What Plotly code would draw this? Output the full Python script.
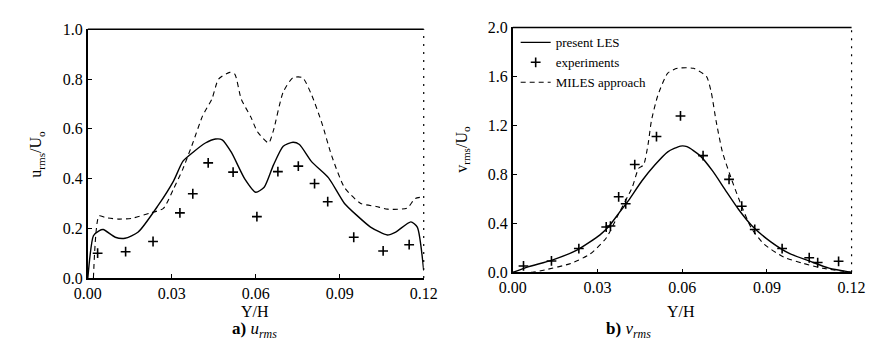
import plotly.graph_objects as go

# ---- panel a) u_rms ----
a_les_x = [0.0, 0.002, 0.004, 0.0055, 0.0098, 0.0133, 0.018, 0.025, 0.0306, 0.034, 0.0375, 0.042,
           0.0456, 0.048, 0.0513, 0.056, 0.060, 0.063, 0.0663, 0.0698, 0.0733, 0.0756, 0.080,
           0.086, 0.0917, 0.0963, 0.101, 0.107, 0.110, 0.1154, 0.1177, 0.120]
a_les_y = [0.0, 0.17, 0.19, 0.195, 0.164, 0.16, 0.185, 0.29, 0.39, 0.47, 0.505, 0.543,
           0.559, 0.556, 0.505, 0.40, 0.345, 0.365, 0.454, 0.53, 0.546, 0.537, 0.467,
           0.403, 0.30, 0.25, 0.205, 0.173, 0.185, 0.226, 0.205, 0.03]
a_miles_x = [0.002, 0.004, 0.0063, 0.011, 0.0156, 0.0225, 0.027, 0.0306, 0.034, 0.0375, 0.041,
             0.0444, 0.0467, 0.0507, 0.0525, 0.0548, 0.0583, 0.0606, 0.0646, 0.0663, 0.0698,
             0.0733, 0.0767, 0.080, 0.0837, 0.0871, 0.0917, 0.0975, 0.103, 0.107, 0.114, 0.117, 0.120]
a_miles_y = [0.0, 0.25, 0.243, 0.237, 0.24, 0.262, 0.28, 0.358, 0.44, 0.543, 0.652,
             0.722, 0.80, 0.827, 0.82, 0.72, 0.646, 0.588, 0.543, 0.593, 0.748,
             0.806, 0.806, 0.735, 0.62, 0.492, 0.364, 0.30, 0.288, 0.277, 0.281, 0.32, 0.326]
a_exp_x = [0.0035, 0.0135, 0.0233, 0.0329, 0.0375, 0.043, 0.0519, 0.0604, 0.0679, 0.0752,
           0.081, 0.0857, 0.095, 0.1055, 0.1148]
a_exp_y = [0.10, 0.106, 0.147, 0.262, 0.339, 0.463, 0.426, 0.247, 0.428, 0.45,
           0.38, 0.307, 0.164, 0.109, 0.134]

# ---- panel b) v_rms ----
b_les_x = [0.0, 0.0057, 0.0137, 0.0229, 0.0309, 0.0343, 0.0377, 0.0411, 0.0457, 0.0503, 0.0549,
           0.0594, 0.0617, 0.0663, 0.0709, 0.0754, 0.080, 0.0846, 0.0914, 0.0983, 0.105, 0.112, 0.120]
b_les_y = [0.0, 0.047, 0.098, 0.184, 0.306, 0.383, 0.487, 0.59, 0.746, 0.876, 0.984,
           1.031, 1.026, 0.953, 0.824, 0.668, 0.513, 0.383, 0.249, 0.15, 0.093, 0.034, 0.0]
b_miles_x = [0.0, 0.0069, 0.0114, 0.0206, 0.0274, 0.0331, 0.0377, 0.0423, 0.0446, 0.0463, 0.048,
             0.0491, 0.0514, 0.0549, 0.0583, 0.064, 0.0686, 0.0703, 0.072, 0.0743, 0.0777,
             0.0811, 0.0846, 0.0891, 0.096, 0.1029, 0.1097, 0.120]
b_miles_y = [0.0, 0.0, 0.02, 0.073, 0.15, 0.28, 0.487, 0.694, 0.85, 0.876, 1.057,
             1.238, 1.446, 1.627, 1.666, 1.666, 1.60, 1.47, 1.238, 0.979, 0.746,
             0.539, 0.357, 0.228, 0.124, 0.073, 0.034, 0.0]
b_exp_x = [0.0038, 0.0137, 0.0234, 0.0331, 0.0346, 0.0375, 0.040, 0.0432, 0.0509, 0.0594,
           0.0674, 0.0766, 0.0811, 0.0857, 0.0954, 0.105, 0.108, 0.1154]
b_exp_y = [0.052, 0.093, 0.194, 0.37, 0.378, 0.617, 0.56, 0.88, 1.109, 1.277,
           0.953, 0.759, 0.54, 0.35, 0.194, 0.119, 0.08, 0.09]

x_ticks = [0.0, 0.03, 0.06, 0.09, 0.12]
x_ticklabels = ["0.00", "0.03", "0.06", "0.09", "0.12"]
a_y_ticks = [0.0, 0.2, 0.4, 0.6, 0.8, 1.0]
b_y_ticks = [0.0, 0.4, 0.8, 1.2, 1.6, 2.0]

FONT = "Times New Roman, Liberation Serif, serif"
W, H = 875, 361

fig = go.Figure()

line_solid = dict(color="black", width=1.4, shape="spline", smoothing=0.6)
line_dash = dict(color="black", width=1.1, dash="5px,4px", shape="spline", smoothing=0.6)
mk = dict(symbol="cross-thin", size=7, line=dict(color="black", width=1.6), color="black")

fig.add_trace(go.Scatter(x=a_les_x, y=a_les_y, mode="lines", line=line_solid,
                         xaxis="x", yaxis="y", showlegend=False))
fig.add_trace(go.Scatter(x=a_exp_x, y=a_exp_y, mode="markers", marker=mk,
                         xaxis="x", yaxis="y", showlegend=False))
fig.add_trace(go.Scatter(x=a_miles_x, y=a_miles_y, mode="lines", line=line_dash,
                         xaxis="x", yaxis="y", showlegend=False))

fig.add_trace(go.Scatter(x=b_les_x, y=b_les_y, mode="lines", line=line_solid,
                         xaxis="x2", yaxis="y2", name="present LES"))
fig.add_trace(go.Scatter(x=b_exp_x, y=b_exp_y, mode="markers", marker=mk,
                         xaxis="x2", yaxis="y2", name="experiments"))
fig.add_trace(go.Scatter(x=b_miles_x, y=b_miles_y, mode="lines", line=line_dash,
                         xaxis="x2", yaxis="y2", name="MILES approach"))

ax_common = dict(showline=True, linecolor="black", linewidth=1.5, mirror=False,
                 ticks="inside", ticklen=4, tickcolor="black", showgrid=False, zeroline=False,
                 tickfont=dict(family=FONT, size=16, color="black"))

xa = dict(ax_common, range=[0, 0.12], tickvals=x_ticks, ticktext=x_ticklabels)
fig.update_layout(
    width=W, height=H,
    margin=dict(l=0, r=0, t=0, b=0),
    paper_bgcolor="white", plot_bgcolor="white",
    font=dict(family=FONT, color="black"),
    xaxis=dict(xa, domain=[68 / W, 415 / W], anchor="y"),
    yaxis=dict(ax_common, range=[0, 1.0], tickvals=a_y_ticks, ticktext=["%.1f" % v for v in a_y_ticks],
               domain=[1 - 275 / H, 1 - 14 / H], anchor="x"),
    xaxis2=dict(xa, domain=[507 / W, 857 / W], anchor="y2"),
    yaxis2=dict(ax_common, range=[0, 2.0], tickvals=b_y_ticks, ticktext=["%.1f" % v for v in b_y_ticks],
                domain=[1 - 269 / H, 1 - 12 / H], anchor="x2"),
    legend=dict(x=510 / W, y=1 - 12 / H, xanchor="left", yanchor="top",
                bgcolor="rgba(0,0,0,0)", font=dict(family=FONT, size=13, color="black"),
                tracegroupgap=0, itemwidth=30),
)

# top solid and right dotted frame lines
for xr, yr in (("x", "y"), ("x2", "y2")):
    fig.add_shape(type="line", xref=xr + " domain", yref=yr + " domain", x0=0, x1=1, y0=1, y1=1,
                  line=dict(color="black", width=1.5))
    fig.add_shape(type="line", xref=xr + " domain", yref=yr + " domain", x0=1, x1=1, y0=0, y1=1,
                  line=dict(color="black", width=1.2, dash="2px,6px"))

ann = []
ann.append(dict(x=15 / W, y=1 - 145 / H, text="u<sub>rms</sub>/U<sub>o</sub>", textangle=-90))
ann.append(dict(x=455 / W, y=1 - 140 / H, text="v<sub>rms</sub>/U<sub>o</sub>", textangle=-90))
ann.append(dict(x=241 / W, y=1 - 310 / H, text="Y/H"))
ann.append(dict(x=681 / W, y=1 - 310 / H, text="Y/H"))
for a in ann:
    fig.add_annotation(xref="paper", yref="paper", showarrow=False, xanchor="center", yanchor="middle",
                       font=dict(family=FONT, size=16, color="black"), **a)
fig.add_annotation(xref="paper", yref="paper", x=215 / W, y=1 - 343 / H, showarrow=False,
                   text="<b>a)</b> <i>u</i><sub><i>rms</i></sub>",
                   font=dict(family=FONT, size=17, color="black"))
fig.add_annotation(xref="paper", yref="paper", x=652 / W, y=1 - 343 / H, showarrow=False,
                   text="<b>b)</b> <i>v</i><sub><i>rms</i></sub>",
                   font=dict(family=FONT, size=17, color="black"))

fig.write_html("out.html")
